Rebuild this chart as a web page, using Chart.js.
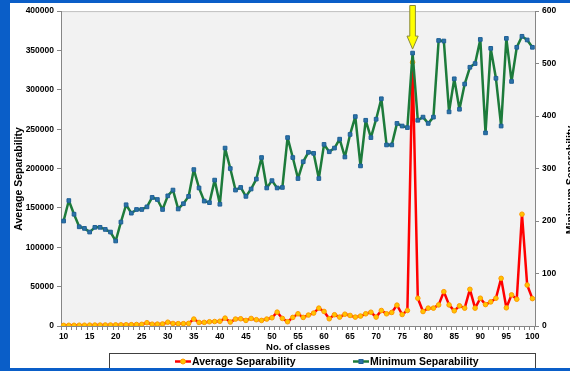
<!DOCTYPE html>
<html>
<head>
<meta charset="utf-8">
<script src="https://cdn.jsdelivr.net/npm/chart.js@4/dist/chart.umd.min.js"></script>
<style>
  html, body { margin: 0; padding: 0; width: 570px; height: 371px; overflow: hidden; background: #0a5ec8; }
  #panel { position: absolute; left: 10px; top: 3px; width: 560px; height: 365px; background: #ffffff; overflow: hidden; }
  #c { display: block; }
</style>
</head>
<body>
<div id="panel"><canvas id="c" width="560" height="365"></canvas></div>
<script>
// Number of classes (x categories)
const classes = [
  10, 11, 12, 13, 14, 15, 16, 17, 18, 19,
  20, 21, 22, 23, 24, 25, 26, 27, 28, 29,
  30, 31, 32, 33, 34, 35, 36, 37, 38, 39,
  40, 41, 42, 43, 44, 45, 46, 47, 48, 49,
  50, 51, 52, 53, 54, 55, 56, 57, 58, 59,
  60, 61, 62, 63, 64, 65, 66, 67, 68, 69,
  70, 71, 72, 73, 74, 75, 76, 77, 78, 79,
  80, 81, 82, 83, 84, 85, 86, 87, 88, 89,
  90, 91, 92, 93, 94, 95, 96, 97, 98, 99,
  100
];

// Average separability (left axis)
const averageSeparability = [
  800, 900, 900, 1000, 1000, 1100, 1200, 1200, 1300, 1300,
  1400, 1500, 1600, 1700, 1900, 2100, 4200, 2300, 2400, 2600,
  4800, 3200, 3000, 3000, 3300, 8800, 4500, 4600, 5400, 5700,
  6000, 10000, 5000, 8800, 9200, 7100, 9600, 8000, 7100, 8800,
  10500, 17600, 9600, 5400, 10900, 15500, 10900, 13900, 16400, 22700,
  18500, 9200, 14300, 11300, 15000, 13400, 11300, 12600, 15500, 17500,
  11300, 19700, 15500, 17200, 26500, 14600, 19700, 335000, 35300, 18400,
  22700, 22700, 26800, 43600, 26800, 19300, 25600, 22700, 46600, 22700,
  35300, 27200, 30600, 35300, 60500, 23100, 39500, 34000, 142000, 52000,
  34800
];

// Minimum separability (right axis)
const minimumSeparability = [
  200, 239, 213, 189, 186, 179, 188, 188, 184, 179,
  162, 198, 231, 215, 222, 222, 227, 245, 241, 222,
  248, 259, 223, 233, 247, 298, 263, 238, 235, 278,
  232, 339, 300, 259, 264, 247, 261, 280, 321, 263,
  277, 263, 264, 359, 321, 281, 313, 331, 329, 281,
  346, 332, 339, 356, 322, 365, 399, 305, 392, 359,
  394, 433, 345, 345, 386, 381, 378, 520, 392, 398,
  386, 398, 544, 543, 408, 471, 413, 461, 493, 500,
  546, 368, 529, 472, 381, 548, 466, 531, 552, 545,
  531
];

// Axis ranges and the highlighted class
const leftTicks = { min: 0, max: 400000, step: 50000 };
const rightTicks = { min: 0, max: 600, step: 100 };
const labelEvery = 5;
const highlightedClass = 77;

const FONT = "'Liberation Sans', Arial, sans-serif";
const AXIS_GREY = '#868686';

const seriesStyles = {
  avg: { line: '#ff0000', fill: '#ffc400', edge: '#ff9a00' },
  min: { line: '#1d7b3b', fill: '#2b73a8', edge: '#1f5f95' }
};

// Plot background, axis titles, legend box and the marker arrow
const decorations = {
  id: 'decorations',
  beforeDraw(chart) {
    const { ctx, chartArea: a } = chart;
    ctx.save();
    ctx.fillStyle = '#f2f2f2';
    ctx.fillRect(a.left, a.top, a.right - a.left, a.bottom - a.top);
    ctx.strokeStyle = '#c0c0c0';
    ctx.lineWidth = 1;
    ctx.beginPath();
    ctx.moveTo(a.left, a.top + 0.5);
    ctx.lineTo(a.right, a.top + 0.5);
    ctx.stroke();
    ctx.restore();
  },
  afterDraw(chart) {
    const { ctx } = chart;
    const x = chart.scales.x, y1 = chart.scales.y1;
    ctx.save();

    // vertical axis titles
    ctx.fillStyle = '#000';
    ctx.font = `bold 10.5px ${FONT}`;
    ctx.textAlign = 'center';
    ctx.textBaseline = 'middle';
    ctx.save();
    ctx.translate(9, 176);
    ctx.rotate(-Math.PI / 2);
    ctx.fillText('Average Separability', 0, 0);
    ctx.restore();
    ctx.save();
    ctx.translate(561, 177);
    ctx.rotate(-Math.PI / 2);
    ctx.fillText('Minimum Separability', 0, 0);
    ctx.restore();

    // legend box
    ctx.fillStyle = '#ffffff';
    ctx.fillRect(99.5, 350.5, 426, 30);
    ctx.strokeStyle = '#404040';
    ctx.lineWidth = 1;
    ctx.strokeRect(99.5, 350.5, 426, 30);

    const ly = 358.5;
    const items = [
      { text: 'Average Separability', x0: 165, style: seriesStyles.avg, shape: 'circle' },
      { text: 'Minimum Separability', x0: 343, style: seriesStyles.min, shape: 'rect' }
    ];
    items.forEach(it => {
      ctx.strokeStyle = it.style.line;
      ctx.lineWidth = 2.5;
      ctx.beginPath();
      ctx.moveTo(it.x0, ly);
      ctx.lineTo(it.x0 + 16, ly);
      ctx.stroke();
      ctx.fillStyle = it.style.fill;
      ctx.strokeStyle = it.style.edge;
      ctx.lineWidth = 1;
      if (it.shape === 'circle') {
        ctx.beginPath();
        ctx.arc(it.x0 + 8, ly, 2.5, 0, Math.PI * 2);
        ctx.fill();
        ctx.stroke();
      } else {
        ctx.fillRect(it.x0 + 6, ly - 2, 4, 4);
        ctx.strokeRect(it.x0 + 6, ly - 2, 4, 4);
      }
      ctx.fillStyle = '#000';
      ctx.font = `bold 10.5px ${FONT}`;
      ctx.textAlign = 'left';
      ctx.textBaseline = 'middle';
      ctx.fillText(it.text, it.x0 + 17, ly + 0.5);
    });

    // arrow pointing at the highlighted class
    const idx = classes.indexOf(highlightedClass);
    const ax = x.getPixelForValue(idx);
    const tip = y1.getPixelForValue(minimumSeparability[idx]) - 4;
    const shaftW = 2.8, headW = 5.6, headH = 13;
    ctx.beginPath();
    ctx.moveTo(ax - shaftW, 2.5);
    ctx.lineTo(ax + shaftW, 2.5);
    ctx.lineTo(ax + shaftW, tip - headH);
    ctx.lineTo(ax + headW, tip - headH);
    ctx.lineTo(ax, tip);
    ctx.lineTo(ax - headW, tip - headH);
    ctx.lineTo(ax - shaftW, tip - headH);
    ctx.closePath();
    ctx.fillStyle = '#ffff00';
    ctx.fill();
    ctx.strokeStyle = '#8a8a3a';
    ctx.lineWidth = 1;
    ctx.stroke();

    ctx.restore();
  }
};

const tickFont = { family: FONT, size: 8.5, weight: 'bold' };

new Chart(document.getElementById('c'), {
  type: 'line',
  data: {
    labels: classes.map(String),
    datasets: [
      {
        label: 'Average Separability',
        data: averageSeparability,
        yAxisID: 'y',
        order: 1,
        borderColor: seriesStyles.avg.line,
        borderWidth: 2.5,
        borderJoinStyle: 'round',
        pointStyle: 'circle',
        pointRadius: 2.3,
        pointBackgroundColor: seriesStyles.avg.fill,
        pointBorderColor: seriesStyles.avg.edge,
        pointBorderWidth: 1,
        tension: 0
      },
      {
        label: 'Minimum Separability',
        data: minimumSeparability,
        yAxisID: 'y1',
        order: 0,
        borderColor: seriesStyles.min.line,
        borderWidth: 2.5,
        borderJoinStyle: 'round',
        pointStyle: 'rect',
        pointRadius: 2.6,
        pointBackgroundColor: seriesStyles.min.fill,
        pointBorderColor: seriesStyles.min.edge,
        pointBorderWidth: 1,
        tension: 0
      }
    ]
  },
  options: {
    responsive: false,
    animation: false,
    devicePixelRatio: 1,
    layout: { padding: { top: 6, bottom: 14, left: 0, right: 0 } },
    plugins: { legend: { display: false }, tooltip: { enabled: false } },
    scales: {
      x: {
        type: 'category',
        offset: true,
        grid: { drawOnChartArea: false, drawTicks: true, tickLength: 4, color: AXIS_GREY, offset: true },
        border: { color: AXIS_GREY, width: 1 },
        ticks: {
          autoSkip: false,
          maxRotation: 0,
          minRotation: 0,
          padding: 2,
          color: '#000',
          font: tickFont,
          callback: (v, i) => (classes[i] % labelEvery === 0 ? String(classes[i]) : '')
        },
        title: {
          display: true,
          text: 'No. of classes',
          color: '#000',
          font: { family: FONT, size: 9.5, weight: 'bold' },
          padding: { top: 0, bottom: 1 }
        },
        afterFit: s => { s.height = 28; }
      },
      y: {
        position: 'left',
        min: leftTicks.min,
        max: leftTicks.max,
        grid: { drawOnChartArea: false, drawTicks: true, tickLength: 4, color: AXIS_GREY },
        border: { color: AXIS_GREY, width: 1 },
        ticks: { stepSize: leftTicks.step, padding: 3, color: '#000', font: tickFont, callback: v => String(v) },
        afterFit: s => { s.width = 51; }
      },
      y1: {
        position: 'right',
        min: rightTicks.min,
        max: rightTicks.max,
        grid: { drawOnChartArea: false, drawTicks: true, tickLength: 4, color: AXIS_GREY },
        border: { color: AXIS_GREY, width: 1 },
        ticks: { stepSize: rightTicks.step, padding: 3, color: '#000', font: tickFont, callback: v => String(v) },
        afterFit: s => { s.width = 35; }
      }
    }
  },
  plugins: [decorations]
});
</script>
</body>
</html>
